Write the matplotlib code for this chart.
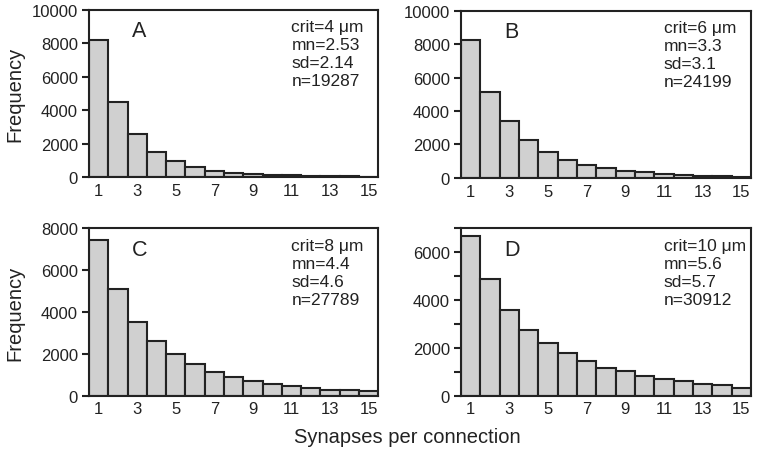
import numpy as np
import matplotlib
matplotlib.use("Agg")
import matplotlib.pyplot as plt

plt.rcParams['font.family'] = ['Liberation Sans', 'DejaVu Sans']

# synapses per connection (1..15)
syn = np.arange(1, 16)

freq_a = [8200, 4480, 2590, 1530, 950, 630, 370, 260, 180, 130, 100, 70, 50, 40, 30]
freq_b = [8230, 5150, 3390, 2270, 1570, 1070, 790, 600, 400, 350, 260, 180, 120, 100, 70]
freq_c = [7430, 5100, 3540, 2630, 1980, 1520, 1150, 890, 690, 580, 480, 370, 260, 250, 210]
freq_d = [6670, 4900, 3600, 2750, 2210, 1790, 1460, 1150, 1040, 830, 710, 600, 500, 440, 330]

letters = ['A', 'B', 'C', 'D']
crit = [4, 6, 8, 10]
mn = ['2.53', '3.3', '4.4', '5.6']
sd = ['2.14', '3.1', '4.6', '5.7']
n_conn = [19287, 24199, 27789, 30912]
ymax = [10000, 10000, 8000, 7000]

all_freq = [freq_a, freq_b, freq_c, freq_d]

fig = plt.figure(figsize=(7.59, 4.52), dpi=100)

# axes boxes in figure fractions (left, bottom, width, height)
boxes = [(0.1173, 0.606, 0.381, 0.3695),
         (0.6074, 0.604, 0.382, 0.3705),
         (0.1173, 0.1224, 0.381, 0.3703),
         (0.6074, 0.1224, 0.382, 0.3703)]

for i, box in enumerate(boxes):
    ax = fig.add_axes(box)
    ax.bar(syn, all_freq[i], width=1.0, color='#d0d0d0', edgecolor='#222222',
           linewidth=1.5)
    ax.set_xlim(0.5, 15.5)
    ax.set_ylim(0, ymax[i])
    ax.set_xticks(np.arange(1, 16, 2))
    ax.tick_params(axis='x', length=0, labelsize=12, pad=4, colors='#222222')
    if i == 3:
        ax.set_yticks(np.arange(0, 7001, 1000))
        ax.set_yticklabels([str(v) if v % 2000 == 0 else '' for v in range(0, 7001, 1000)])
    else:
        ax.set_yticks(np.arange(0, ymax[i] + 1, 2000))
    ax.tick_params(axis='y', direction='out', length=5, width=1.5, labelsize=12,
                   pad=3, colors='#222222')
    for s in ax.spines.values():
        s.set_linewidth(1.5)
        s.set_color('#222222')
    ax.text(0.175, 0.875, letters[i], transform=ax.transAxes, fontsize=15.5,
            ha='center', va='center', color='#222222')
    info = f"crit={crit[i]} \u03bcm\nmn={mn[i]}\nsd={sd[i]}\nn={n_conn[i]}"
    ax.text(0.70, 0.945, info, transform=ax.transAxes, fontsize=12.5,
            ha='left', va='top', linespacing=1.25, color='#222222')
    if i % 2 == 0:
        ax.set_ylabel('Frequency', fontsize=14.5, color='#222222')
        ax.yaxis.set_label_coords(-0.225, 0.5)

fig.text(0.537, 0.033, 'Synapses per connection', fontsize=14.5,
         ha='center', va='center', color='#222222')

fig.savefig('out.png', dpi=100)
